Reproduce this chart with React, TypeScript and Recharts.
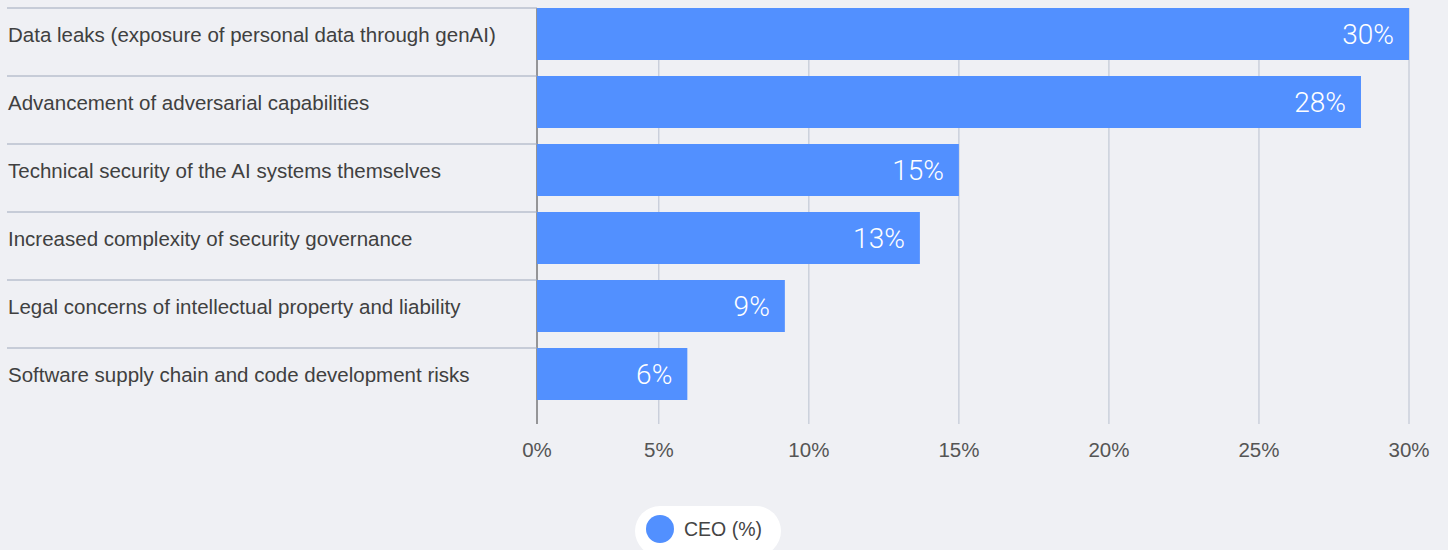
import React from "react"
import {
  Bar,
  BarChart,
  CartesianGrid,
  LabelList,
  Legend,
  XAxis,
  YAxis,
} from "recharts"

const categories = [
  "Data leaks (exposure of personal data through genAI)",
  "Advancement of adversarial capabilities",
  "Technical security of the AI systems themselves",
  "Increased complexity of security governance",
  "Legal concerns of intellectual property and liability",
  "Software supply chain and code development risks",
]
const ceoValues = [30, 28.4, 15, 13.7, 9.2, 5.95]
const ceoLabels = ["30%", "28%", "15%", "13%", "9%", "6%"]
const xTicks = [0.94, 5, 10, 15, 20, 25, 30]
const xTickLabels = ["0%", "5%", "10%", "15%", "20%", "25%", "30%"]

const data = categories.map((name, i) => ({
  name,
  ceo: ceoValues[i],
  label: ceoLabels[i],
}))

const BG = "#eff0f4"
const BLUE = "#5290ff"
const GRID = "#b9c0cf"
const SEP = "#9ea8bb"
const AXIS = "#3a3a3a"
const FONT = "'Helvetica Neue', 'Liberation Sans', Arial, sans-serif"
const LIGHT_FONT = "Roboto, 'Liberation Sans', sans-serif"
const BAR_SIZE = 52
const AXIS_X = 537

function CategoryTick({ y, payload }: any) {
  return (
    <g>
      <line x1={7} x2={AXIS_X} y1={y - BAR_SIZE / 2} y2={y - BAR_SIZE / 2} stroke={SEP} strokeWidth={1} />
      <text
        x={8}
        y={y}
        dominantBaseline="central"
        fill="#404040"
        fontSize={20.5}
        fontFamily={FONT}
      >
        {payload.value}
      </text>
    </g>
  )
}

function GridLine(props: any) {
  const { x1, x2, y1, y2, index } = props
  return (
    <line
      key={`v-${index}`}
      x1={x1}
      x2={x2}
      y1={y1 + 8}
      y2={y2}
      stroke={index === 0 ? AXIS : GRID}
      strokeWidth={1}
    />
  )
}

function BarValue(props: any) {
  const { x, y, width, height, index } = props
  return (
    <text
      x={x + width - 15}
      y={y + height / 2}
      textAnchor="end"
      dominantBaseline="central"
      fill="#ffffff"
      fontSize={28}
      fontWeight={300}
      fontFamily={LIGHT_FONT}
    >
      {ceoLabels[index]}
    </text>
  )
}

function LegendPill() {
  return (
    <div style={{ height: 44, overflow: "hidden" }}>
      <div
        style={{
          height: 50,
          borderRadius: 25,
          background: "#ffffff",
          display: "flex",
          alignItems: "center",
          paddingLeft: 11,
          boxSizing: "border-box",
        }}
      >
        <span
          style={{
            width: 28,
            height: 28,
            borderRadius: 14,
            background: BLUE,
            display: "inline-block",
            marginTop: -4,
          }}
        />
        <span
          style={{
            marginLeft: 10,
            fontFamily: FONT,
            fontSize: 19.5,
            color: "#444",
            marginTop: -4,
          }}
        >
          CEO (%)
        </span>
      </div>
    </div>
  )
}

export default function App() {
  return (
    <div
      style={{
        position: "absolute",
        left: 0,
        top: 0,
        width: 1448,
        height: 550,
        background: BG,
        overflow: "hidden",
      }}
    >
      <BarChart
        width={1448}
        height={550}
        data={data}
        layout="vertical"
        margin={{ top: 0, right: 39, left: 0, bottom: 0 }}
        barSize={BAR_SIZE}
      >
        <CartesianGrid horizontal={false} vertical={GridLine} />
        <XAxis
          type="number"
          domain={[0.94, 30]}
          ticks={xTicks}
          interval={0}
          height={82}
          axisLine={false}
          tickLine={false}
          tickMargin={12}
          tick={{ fill: "#555", fontSize: 20.5, fontFamily: FONT }}
          tickFormatter={(_v: number, i: number) => xTickLabels[i]}
        />
        <YAxis
          type="category"
          dataKey="name"
          width={AXIS_X}
          interval={0}
          axisLine={false}
          tickLine={false}
          padding={{ top: 0, bottom: 16 }}
          tick={<CategoryTick />}
        />
        <Legend
          verticalAlign="bottom"
          content={() => <LegendPill />}
          wrapperStyle={{ left: 635, top: 506, width: 146 }}
        />
        <Bar dataKey="ceo" fill={BLUE} isAnimationActive={false}>
          <LabelList dataKey="label" content={<BarValue />} />
        </Bar>
      </BarChart>
    </div>
  )
}
